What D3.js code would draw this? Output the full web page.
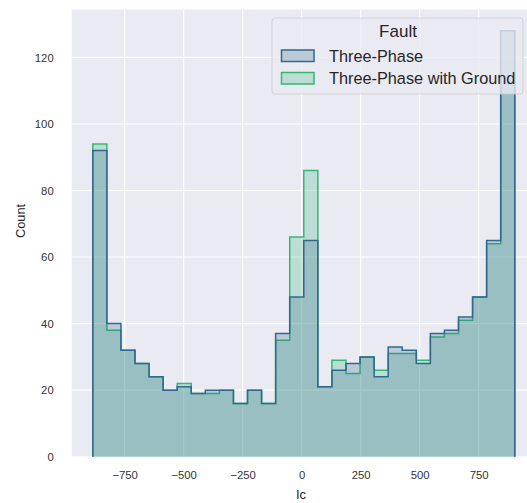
<!DOCTYPE html>
<html>
<head>
<meta charset="utf-8">
<script src="https://cdn.jsdelivr.net/npm/d3@7"></script>
<style>
  html, body { margin: 0; padding: 0; background: #ffffff; }
  svg { display: block; font-family: "Liberation Sans", Arial, sans-serif; }
</style>
</head>
<body>
<svg id="chart" width="527" height="503"></svg>
<script>
// Histogram of Ic per fault type: 30 equal bins over the Ic range
const binLo = -885;
const binHi = 903;
const binCount = 30;

const seriesNames = ["Three-Phase", "Three-Phase with Ground"];
const seriesColors = ["#31688e", "#35b779"];

const countsThreePhase = [92, 40, 32, 28, 24, 20, 21, 19, 20, 20, 16, 20, 16, 37, 48,
                          65, 21, 26, 28, 30, 24, 33, 32, 28, 37, 38, 42, 48, 65, 128];
const countsThreePhaseGround = [94, 38, 32, 28, 24, 20, 22, 19, 19, 20, 16, 20, 16, 35, 66,
                                86, 21, 29, 25, 30, 26, 31, 31, 29, 36, 37, 41, 48, 64, 128];

const xTicks = [-750, -500, -250, 0, 250, 500, 750];
const yTicks = [0, 20, 40, 60, 80, 100, 120];

const binEdges = d3.range(binCount + 1).map(i => binLo + i * (binHi - binLo) / binCount);
const seriesCounts = [countsThreePhase, countsThreePhaseGround];

// Axes box and scales (5% padding on x, 5% headroom on y)
const plot = { left: 71.7, top: 9.5, bottom: 456.7 };
const pad = 0.05 * (binHi - binLo);
const xDomain = [binLo - pad, binHi + pad];
const pxPerUnit = 0.236;
const x = d3.scaleLinear().domain(xDomain)
  .range([plot.left, plot.left + (xDomain[1] - xDomain[0]) * pxPerUnit]);
const yMax = d3.max(seriesCounts.flat()) * 1.05;
const y = d3.scaleLinear().domain([0, yMax]).range([plot.bottom, plot.top]);

const svg = d3.select("#chart");
const plotRight = x.range()[1];

svg.append("rect")
  .attr("x", plot.left).attr("y", plot.top)
  .attr("width", plotRight - plot.left).attr("height", plot.bottom - plot.top)
  .attr("fill", "#eaeaf2");

// Grid
const grid = svg.append("g");
grid.selectAll("line.gx").data(xTicks).join("line")
  .attr("x1", d => x(d)).attr("x2", d => x(d))
  .attr("y1", plot.top).attr("y2", plot.bottom)
  .attr("stroke", "#ffffff").attr("stroke-width", 1.1);
grid.selectAll("line.gy").data(yTicks).join("line")
  .attr("x1", plot.left).attr("x2", plotRight)
  .attr("y1", d => y(d)).attr("y2", d => y(d))
  .attr("stroke", "#ffffff").attr("stroke-width", 1.1);

// Step outlines and fills; the first series is drawn last so it sits on top
function stepPoints(counts) {
  const pts = [];
  counts.forEach((c, i) => {
    pts.push([x(binEdges[i]), y(c)]);
    pts.push([x(binEdges[i + 1]), y(c)]);
  });
  return pts;
}
const line = d3.line();
const marks = svg.append("g");
[1, 0].forEach(k => {
  const pts = stepPoints(seriesCounts[k]);
  const x0 = x(binEdges[0]), x1 = x(binEdges[binCount]), y0 = y(0);
  const outline = [[x0, y0], ...pts, [x1, y0]];
  marks.append("path")
    .attr("d", line(outline) + "Z")
    .attr("fill", seriesColors[k]).attr("fill-opacity", 0.25)
    .attr("stroke", "none");
  marks.append("path")
    .attr("d", line(outline))
    .attr("fill", "none")
    .attr("stroke", seriesColors[k]).attr("stroke-width", 1.5)
    .attr("stroke-linejoin", "miter");
});

// Axes
const fmt = d3.format("");
const xAxis = svg.append("g")
  .attr("transform", `translate(0,${plot.bottom})`)
  .call(d3.axisBottom(x).tickValues(xTicks).tickSize(0).tickPadding(14).tickFormat(fmt));
const yAxis = svg.append("g")
  .attr("transform", `translate(${plot.left},0)`)
  .call(d3.axisLeft(y).tickValues(yTicks).tickSize(0).tickPadding(18).tickFormat(fmt));
[xAxis, yAxis].forEach(g => {
  g.select(".domain").remove();
  g.selectAll("text")
    .attr("fill", "#333333")
    .style("font-family", "'Liberation Sans', Arial, sans-serif")
    .style("font-size", "11.3px");
});

svg.append("text")
  .attr("x", 301).attr("y", 499)
  .attr("text-anchor", "middle")
  .attr("fill", "#262626").style("font-size", "13px")
  .text("Ic");
svg.append("text")
  .attr("transform", "translate(25,221) rotate(-90)")
  .attr("text-anchor", "middle")
  .attr("fill", "#262626").style("font-size", "12.8px")
  .text("Count");

// Legend
const legend = svg.append("g");
legend.append("rect")
  .attr("x", 272).attr("y", 18).attr("width", 251).attr("height", 76)
  .attr("rx", 3).attr("ry", 3)
  .attr("fill", "#eaeaf2").attr("fill-opacity", 0.8)
  .attr("stroke", "#cccccc").attr("stroke-opacity", 0.8).attr("stroke-width", 1);
legend.append("text")
  .attr("x", 398).attr("y", 37)
  .attr("text-anchor", "middle")
  .attr("fill", "#262626").style("font-size", "17px")
  .text("Fault");
const entryBase = [61.5, 84];
seriesNames.forEach((name, i) => {
  legend.append("rect")
    .attr("x", 281.5).attr("y", entryBase[i] - 11.5).attr("width", 32.5).attr("height", 11.5)
    .attr("fill", "#eaeaf2");
  legend.append("rect")
    .attr("x", 281.5).attr("y", entryBase[i] - 11.5).attr("width", 32.5).attr("height", 11.5)
    .attr("fill", seriesColors[i]).attr("fill-opacity", 0.25)
    .attr("stroke", seriesColors[i]).attr("stroke-width", 1.5);
  legend.append("text")
    .attr("x", 329).attr("y", entryBase[i])
    .attr("fill", "#262626").style("font-size", "16.3px")
    .text(name);
});
</script>
</body>
</html>
